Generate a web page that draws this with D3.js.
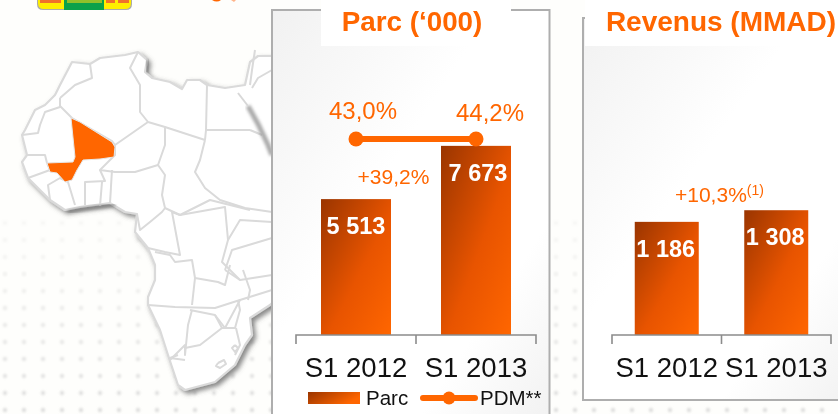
<!DOCTYPE html>
<html><head><meta charset="utf-8">
<script src="https://cdn.jsdelivr.net/npm/d3@7/dist/d3.min.js"></script>
<style>html,body{margin:0;padding:0;background:#fefefc}svg{display:block}text{font-family:"Liberation Sans",Arial,sans-serif}</style>
</head><body><svg id="c" width="838" height="414"></svg>
<script>
const categories=["S1 2012","S1 2013"];
const parcValues=[5513,7673];
const parcLabels=["5 513","7 673"];
const pdmValues=[43.0,44.2];
const pdmLabels=["43,0%","44,2%"];
const revenueValues=[1186,1308];
const revenueLabels=["1 186","1 308"];
const ORANGE="#ff6600";

// decorative map outlines (background picture, not data)
const africaCoast=[[72,62],[90,64],[100,58],[125,55],[138,52],[147,60],[145,72],[152,78],[170,82],[182,89],[187,80],[200,80],[207,85],[225,88],[245,85],[250,62],[258,56],[275,56],[275,150],[272,155],[275,160],[275,300],[270,305],[250,318],[252,335],[245,345],[235,365],[215,382],[185,390],[178,385],[168,355],[160,330],[148,305],[148,297],[155,280],[155,265],[148,248],[135,232],[137,214],[125,212],[110,203],[80,207],[65,210],[50,200],[40,190],[28,178],[22,162],[27,155],[22,135],[25,130],[35,110],[45,105],[55,95],[60,85]];
const mapBorders=[
[[90,64],[92,78],[75,85],[60,98]],[[60,98],[60,107],[45,112],[40,125],[38,133],[22,135]],
[[60,106],[72,118],[112,141],[115,145],[148,122]],[[138,52],[130,68],[140,85],[140,112],[148,122],[165,127],[205,140]],
[[207,85],[206,130],[205,140]],[[206,130],[250,130]],[[250,130],[262,135]],[[165,127],[165,145],[158,165],[165,175],[162,195],[165,208]],
[[205,140],[200,160],[195,172],[205,188],[220,200],[245,208],[272,212]],[[115,145],[115,155],[100,170],[115,172],[135,172],[158,165]],
[[27,155],[45,155],[47,163]],[[28,178],[50,170],[47,163]],[[50,200],[48,185],[60,178],[68,182],[75,205]],
[[85,205],[85,182],[105,181],[100,170]],[[100,206],[102,182]],[[110,203],[112,170]],[[137,214],[140,230],[150,222],[162,212],[165,208]],
[[165,208],[180,215],[210,200],[250,210]],[[148,248],[165,252],[180,255],[172,212],[180,215]],
[[180,215],[225,207],[228,240],[222,262],[240,280]],[[155,252],[170,255],[175,262],[192,260],[195,278],[218,282],[225,285],[230,265]],
[[148,305],[175,307],[215,308],[240,300],[272,290]],[[195,278],[192,305]],[[192,310],[188,325],[185,355],[185,345],[170,360]],
[[190,310],[215,315],[225,328],[240,300]],[[215,315],[222,328],[235,328],[240,310],[238,300]],[[185,348],[200,345],[222,328]],[[236,328],[240,345],[235,355]],
[[228,240],[240,220],[272,222]],[[225,270],[240,280],[272,275]],[[225,270],[232,250],[272,238]],[[243,270],[250,290],[248,300]],
[[185,360],[170,358],[178,355]],
[[235,345],[238,348],[235,352],[232,348],[235,345]],[[218,363],[224,360],[226,364],[220,368],[216,366],[218,363]],
[[255,50],[252,70],[250,85]],[[272,70],[258,78],[252,88]]];
const redSea=[[248,106],[258,124],[268,145],[272,155]];
const gulfShade=[[68,212],[85,209],[115,205]];
const tunisShade=[[148,60],[147,72]];
const maliShape=[[71,118],[80,122],[112,142],[115,147],[114,157],[100,159],[83,160],[77,170],[72,180],[65,182],[57,173],[50,172],[47,163],[73,162],[75,157]];

const svg=d3.select("#c");
const defs=svg.append("defs");
function grad(id,stops,x1,y1,x2,y2){
  const g=defs.append("linearGradient").attr("id",id).attr("x1",x1).attr("y1",y1).attr("x2",x2).attr("y2",y2);
  stops.forEach(s=>g.append("stop").attr("offset",s[0]).attr("stop-color",s[1]));
}
grad("barG",[[0,"#9a3500"],[0.55,"#e85400"],[1,"#ff6600"]],0,0,1,1);
grad("legG",[[0,"#9a3500"],[1,"#ff6600"]],0,0,1,0.4);
grad("panelG",[[0,"#f1f1f1"],[0.4,"#ffffff"],[0.75,"#ffffff"],[1,"#f1f1f1"]],0,0,1,1);
const sh=defs.append("filter").attr("id","shadow").attr("x","-10%").attr("y","-10%").attr("width","130%").attr("height","130%");
sh.append("feDropShadow").attr("dx",3).attr("dy",3).attr("stdDeviation",2.5).attr("flood-color","#555").attr("flood-opacity",0.7);
const bl=defs.append("filter").attr("id","soft");bl.append("feGaussianBlur").attr("stdDeviation",1.2);
const soft=defs.append("filter").attr("id","soft2");soft.append("feGaussianBlur").attr("stdDeviation",1.4);
const soft3=defs.append("filter").attr("id","soft3");soft3.append("feGaussianBlur").attr("stdDeviation",0.5);

// dotted background
const dots=svg.append("g").attr("filter","url(#soft)");
d3.range(223,414,17).forEach((y,i)=>{
  d3.range(5,838,19).forEach(x=>{
    dots.append("circle").attr("cx",x).attr("cy",y).attr("r",2.2).attr("fill","#c8c8c8").attr("opacity",0.12+0.04*i);
  });
});

// map
const line=d3.line();
const map=svg.append("g");
map.append("path").attr("d",line(africaCoast)+"Z").attr("fill","#fff").attr("stroke","#dadada").attr("stroke-width",2.2).attr("stroke-linejoin","round").attr("filter","url(#shadow)");
const mb=map.append("g").attr("fill","none").attr("stroke","#dadada").attr("stroke-width",2).attr("stroke-linejoin","round").attr("filter","url(#soft3)");
mapBorders.forEach(b=>mb.append("path").attr("d",line(b)));
map.append("path").attr("d",line(redSea)).attr("fill","none").attr("stroke","#8f8f8f").attr("stroke-width",5).attr("filter","url(#soft2)").attr("opacity",.75);
map.append("path").attr("d",line([[238,93],[248,106]])).attr("fill","none").attr("stroke","#d8d8d8").attr("stroke-width",2);
map.append("path").attr("d",line(gulfShade)).attr("fill","none").attr("stroke","#777").attr("stroke-width",3).attr("filter","url(#soft2)").attr("opacity",.7);
map.append("path").attr("d",line(tunisShade)).attr("fill","none").attr("stroke","#888").attr("stroke-width",4).attr("filter","url(#soft2)").attr("opacity",.7);
map.append("path").attr("d",line(maliShape)+"Z").attr("fill",ORANGE).attr("stroke","#e6e6e6").attr("stroke-width",1);

// flag at top-left
const flag=svg.append("g");
flag.append("path").attr("d","M37 0V4Q37 10 43 10H126Q132 10 132 4V0Z").attr("fill","#aaa");
flag.append("path").attr("d","M38 0V3Q38 9 44 9H64V0Z").attr("fill","#ffee00");
flag.append("rect").attr("x",64).attr("y",0).attr("width",40).attr("height",10).attr("fill","#0aa14a");
flag.append("path").attr("d","M104 0V9H125Q131 9 131 3V0Z").attr("fill","#ffee00");
const flagMarks=flag.append("g").attr("filter","url(#soft3)");
[[40,21],[67,35],[106,9],[118,11]].forEach(d=>flagMarks.append("rect").attr("x",d[0]).attr("y",0).attr("width",d[1]).attr("height",3).attr("fill",d[0]===67?"#8fc02a":"#f0702a"));
// cropped heading remains
svg.append("path").attr("d","M212 0H221Q217 3 212 0Z").attr("fill",ORANGE);
svg.append("path").attr("d","M231 0H236L234 2Z").attr("fill","#ffb48a");

// panels
function panel(x,y,w,h){
  svg.append("rect").attr("x",x).attr("y",y).attr("width",w).attr("height",h).attr("fill","url(#panelG)").attr("stroke","#aeaeae").attr("stroke-width",2);
}
panel(272,10,277.5,420);
panel(583,18,275,382);
svg.append("rect").attr("x",321).attr("y",0).attr("width",190).attr("height",46).attr("fill","#fff");
svg.append("rect").attr("x",585).attr("y",0).attr("width",253).attr("height",46).attr("fill","#fff");
function title(t,x,fs){
  svg.append("text").attr("x",x).attr("y",31).attr("text-anchor","middle").attr("font-size",fs).attr("font-weight","bold").attr("fill",ORANGE).text(t);
}
title("Parc (‘000)",412,27.8);
title("Revenus (MMAD)",721,28);

const y0=335;
function barChart(x0,x1,values,labels,scaleMax,labelDy){
  const pad=(x1-x0===240)?50/120:45.5/109.5;
  const x=d3.scaleBand().domain(categories).range([x0,x1]).paddingInner(pad).paddingOuter(pad/2);
  const y=d3.scaleLinear().domain([0,scaleMax]).range([y0,y0-scaleMax*0.02465]);
  const yr=d3.scaleLinear().domain([0,scaleMax]).range([y0,y0-scaleMax*0.0954]);
  const Y=(x1-x0===240)?y:yr;
  const g=svg.append("g");
  g.selectAll("rect").data(values).join("rect")
    .attr("x",(d,i)=>x(categories[i])).attr("y",d=>Y(d))
    .attr("width",x.bandwidth()).attr("height",d=>y0-Y(d)).attr("fill","url(#barG)");
  g.selectAll(".v").data(values).join("text").attr("class","v")
    .attr("x",(d,i)=>x(categories[i])+x.bandwidth()/2+labelDy[i])
    .attr("y",d=>Y(d)+35).attr("text-anchor","middle").attr("font-size",23.5).attr("font-weight","bold").attr("fill","#fff")
    .text((d,i)=>labels[i]);
  // axis
  const axis=d3.axisBottom(x).tickSize(0).tickPadding(22);
  const ag=svg.append("g").attr("transform",`translate(0,${y0})`).call(axis);
  ag.select(".domain").remove();
  ag.selectAll("text").attr("font-size",27.5).attr("fill","#111").attr("font-family","Liberation Sans").attr("dy","0.71em");
  const bracket=svg.append("g").attr("stroke","#8c8c8c").attr("stroke-width",1.6).attr("fill","none");
  const ticks=[x0,x0+x.step(),x0+2*x.step()];
  bracket.append("path").attr("d",d3.line()([[x0,y0+9],[x0,y0],[x1,y0],[x1,y0+9]]));
  bracket.append("line").attr("x1",ticks[1]).attr("x2",ticks[1]).attr("y1",y0).attr("y2",y0+9);
  return x;
}
const xP=barChart(296,536,parcValues,parcLabels,8000,[0,2]);
const xR=barChart(612,831,revenueValues,revenueLabels,1400,[-1,-1]);

// PDM line: drawn flat in the reference
const yPdm=d3.scaleLinear().domain([0,100]).range([139,139]);
const pts=pdmValues.map((v,i)=>[xP(categories[i])+xP.bandwidth()/2,yPdm(v)]);
svg.append("path").attr("d",d3.line()(pts)).attr("stroke",ORANGE).attr("stroke-width",6).attr("fill","none");
svg.selectAll(".pt").data(pts).join("circle").attr("class","pt").attr("cx",d=>d[0]).attr("cy",d=>d[1]).attr("r",7.5).attr("fill",ORANGE);
const labelX=[363,490],labelY=[119,121];
pdmLabels.forEach((t,i)=>svg.append("text").attr("x",labelX[i]).attr("y",labelY[i]).attr("text-anchor","middle").attr("font-size",24).attr("fill",ORANGE).text(t));

// growth labels
svg.append("text").attr("x",393.5).attr("y",184).attr("text-anchor","middle").attr("font-size",21).attr("fill",ORANGE).text("+39,2%");
const gr=svg.append("text").attr("x",675).attr("y",202).attr("font-size",21).attr("fill",ORANGE);
gr.append("tspan").text("+10,3%");
gr.append("tspan").attr("dy",-7).attr("font-size",14).text("(1)");

// legend
svg.append("rect").attr("x",308).attr("y",392).attr("width",52).attr("height",12).attr("fill","url(#legG)");
svg.append("text").attr("x",366).attr("y",405).attr("font-size",20.5).attr("fill","#111").text("Parc");
svg.append("line").attr("x1",423).attr("x2",475).attr("y1",398).attr("y2",398).attr("stroke",ORANGE).attr("stroke-width",6).attr("stroke-linecap","round");
svg.append("circle").attr("cx",449).attr("cy",398).attr("r",6.5).attr("fill",ORANGE);
svg.append("text").attr("x",480).attr("y",405).attr("font-size",20.5).attr("fill","#111").text("PDM**");
</script></body></html>
